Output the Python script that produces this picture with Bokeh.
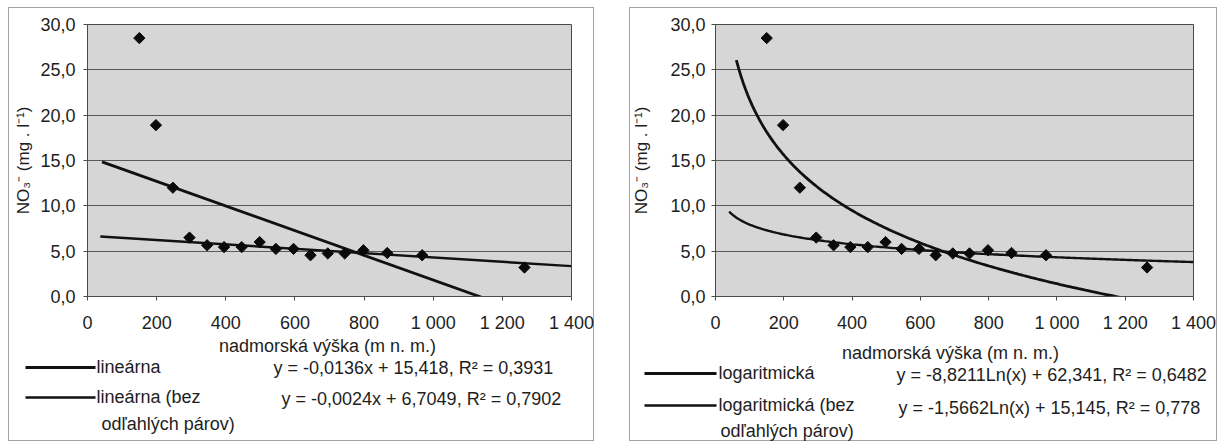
import numpy as np
from bokeh.plotting import figure
from bokeh.models import Range1d, FixedTicker, Spacer
from bokeh.layouts import row, column
from bokeh.core.properties import value
from bokeh.embed import file_html
from bokeh.resources import INLINE

# ---------------- data ----------------
altitude = [150, 198, 247, 295, 346, 395, 446, 498, 545, 596, 645, 695, 744, 798, 867, 968, 1264]
no3 = [28.5, 18.9, 12.0, 6.5, 5.65, 5.45, 5.45, 6.0, 5.25, 5.25, 4.55, 4.75, 4.75, 5.1, 4.8, 4.55, 3.2]

x_ticks = [0, 200, 400, 600, 800, 1000, 1200, 1400]
x_tick_labels = ["0", "200", "400", "600", "800", "1 000", "1 200", "1 400"]
y_ticks = [0, 5, 10, 15, 20, 25, 30]
y_tick_labels = ["0,0", "5,0", "10,0", "15,0", "20,0", "25,0", "30,0"]

# trendline coefficients (as printed on the chart)
lin_all = (-0.0136, 15.418)
lin_clean = (-0.0024, 6.7049)
log_all = (-8.8211, 62.341)
log_clean = (-1.5662, 15.145)
lin_all_start, lin_clean_start = 42, 37
log_all_start, log_clean_start = 61, 40

legend_left = ["lineárna", "lineárna (bez", "odľahlých párov)"]
legend_right = ["logaritmická", "logaritmická (bez", "odľahlých párov)"]
eq_left = ["y = -0,0136x + 15,418, R² = 0,3931", "y = -0,0024x + 6,7049, R² = 0,7902"]
eq_right = ["y = -8,8211Ln(x) + 62,341, R² = 0,6482", "y = -1,5662Ln(x) + 15,145, R² = 0,778"]
x_title = "nadmorská výška (m n. m.)"
y_title = "NO₃⁻ (mg . l⁻¹)"

FONT = "Liberation Sans"
TXT = "#1e1e1e"
INK = "#111111"
XMAX, YMAX = 1400, 30
TOP = 7            # page y of panel top
CH = 328           # chart figure height
LH = 434 - CH      # legend figure height
T, FH = 17, 273    # frame offset / height inside chart figure


def chart_fig(W, L, FW, ylab_standoff, tick_standoff):
    p = figure(width=W, height=CH, x_range=Range1d(0, XMAX), y_range=Range1d(0, YMAX),
               output_backend="svg", toolbar_location=None,
               min_border_left=L, min_border_right=W - L - FW,
               min_border_top=T, min_border_bottom=CH - T - FH)
    p.frame_align = False
    p.background_fill_color = "#d6d6d6"
    p.border_fill_alpha = 0
    p.outline_line_color = "#4a4a4a"
    p.xgrid.grid_line_color = None
    p.ygrid.grid_line_color = "#5a5a5a"
    p.xaxis.ticker = FixedTicker(ticks=x_ticks)
    p.yaxis.ticker = FixedTicker(ticks=y_ticks)
    p.xaxis.major_label_overrides = dict(zip(x_ticks, x_tick_labels))
    p.yaxis.major_label_overrides = dict(zip(y_ticks, y_tick_labels))
    for ax in (p.xaxis, p.yaxis):
        ax.axis_line_color = "#4a4a4a"
        ax.major_tick_line_color = "#4a4a4a"
        ax.major_tick_out = 4
        ax.major_tick_in = 0
        ax.minor_tick_line_color = None
        ax.major_label_text_font = FONT
        ax.major_label_text_font_size = "18px"
        ax.major_label_text_color = TXT
    p.xaxis.major_label_standoff = 12
    p.yaxis.major_label_standoff = tick_standoff
    p.yaxis.axis_label = y_title
    p.yaxis.axis_label_text_font = FONT
    p.yaxis.axis_label_text_font_size = "17px"
    p.yaxis.axis_label_text_font_style = "normal"
    p.yaxis.axis_label_text_color = TXT
    p.yaxis.axis_label_standoff = ylab_standoff
    return p


def legend_fig(W, page_left, title_pos, rows):
    """rows: list of (kind, page_x, page_y, payload)"""
    q = figure(width=W, height=LH, x_range=Range1d(0, W), y_range=Range1d(LH, 0),
               output_backend="svg", toolbar_location=None,
               x_axis_type=None, y_axis_type=None,
               min_border_left=0, min_border_right=0, min_border_top=0, min_border_bottom=0)
    q.frame_align = False
    q.grid.grid_line_color = None
    q.outline_line_color = None
    q.background_fill_alpha = 0
    q.border_fill_alpha = 0
    top = TOP + CH

    def lx(px):
        return px - page_left

    def ly(py):
        return py - top

    q.text(x=[lx(title_pos[0])], y=[ly(title_pos[1])], text=[x_title],
           text_font=value(FONT), text_font_size=value("18px"), text_color=TXT,
           text_align="center", text_baseline="middle")
    for kind, px, py, payload in rows:
        if kind == "line":
            q.line([lx(px), lx(payload[0])], [ly(py), ly(py)], line_color=INK, line_width=payload[1])
        else:
            q.text(x=[lx(px)], y=[ly(py)], text=[payload], text_font=value(FONT),
                   text_font_size=value("18px"), text_color=TXT,
                   text_align="left", text_baseline="middle")
    return q


BOX = {"box-shadow": "inset 0 0 0 1px #a3a3a3", "background-color": "white"}

# ---------------- left panel: linear ----------------
p1 = chart_fig(586, 79, 484, 4, 8)
xs = np.array([lin_all_start, XMAX])
p1.line(xs, lin_all[0] * xs + lin_all[1], line_color=INK, line_width=2.8)
xs = np.array([lin_clean_start, XMAX])
p1.line(xs, lin_clean[0] * xs + lin_clean[1], line_color=INK, line_width=2.4)
p1.scatter(altitude, no3, marker="square", size=8, angle=np.pi / 4,
           fill_color="#0a0a0a", line_color="#0a0a0a")
l1 = legend_fig(586, 8, (327, 345), [
    ("line", 25, 367, (95, 3)),
    ("text", 96, 366, legend_left[0]),
    ("text", 273, 367, eq_left[0]),
    ("line", 25, 397, (95, 2.4)),
    ("text", 96, 396, legend_left[1]),
    ("text", 101, 423, legend_left[2]),
    ("text", 281, 398, eq_left[1]),
])
panel1 = column(p1, l1, styles=BOX)

# ---------------- right panel: logarithmic ----------------
p2 = chart_fig(588, 84, 480, 16, 6)
xs = np.linspace(log_all_start, XMAX, 200)
p2.line(xs, log_all[0] * np.log(xs) + log_all[1], line_color=INK, line_width=2.8)
xs = np.linspace(log_clean_start, XMAX, 200)
p2.line(xs, log_clean[0] * np.log(xs) + log_clean[1], line_color=INK, line_width=2.4)
p2.scatter(altitude, no3, marker="square", size=8, angle=np.pi / 4,
           fill_color="#0a0a0a", line_color="#0a0a0a")
l2 = legend_fig(588, 629, (950, 352), [
    ("line", 644, 373, (716, 3)),
    ("text", 718, 372, legend_right[0]),
    ("text", 896, 374, eq_right[0]),
    ("line", 644, 405, (716, 2.4)),
    ("text", 718, 404, legend_right[1]),
    ("text", 720, 430, legend_right[2]),
    ("text", 898, 407, eq_right[1]),
])
panel2 = column(p2, l2, styles=BOX)

layout = column(Spacer(height=TOP), row(Spacer(width=8), panel1, Spacer(width=35), panel2))
open("out.html", "w").write(file_html(layout, INLINE))
